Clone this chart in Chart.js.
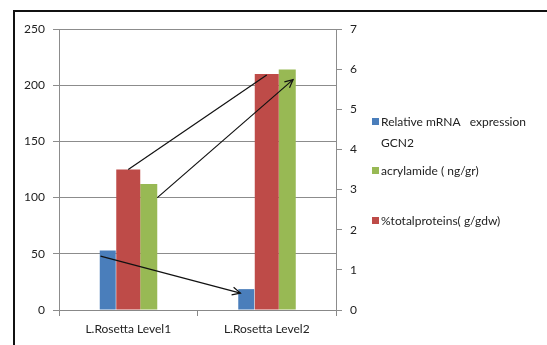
<!DOCTYPE html>
<html>
<head>
<meta charset="utf-8">
<script src="https://cdn.jsdelivr.net/npm/chart.js@4"></script>
<style>
  html, body { margin: 0; padding: 0; background: #ffffff; }
  #wrap { width: 547px; height: 345px; position: relative; }
</style>
</head>
<body>
<div id="wrap"><canvas id="c" width="547" height="345"></canvas></div>
<script>
// Categories and series
const categories = ['L.Rosetta Level1', 'L.Rosetta Level2'];
const mrnaGCN2 = [1.48, 0.52];          // right axis (relative expression)
const totalProteins = [125, 210];       // left axis
const acrylamide = [112, 214];          // left axis

const leftTicks = [0, 50, 100, 150, 200, 250];
const rightTicks = [0, 1, 2, 3, 4, 5, 6, 7];

// Trend arrows, in (category index, left-axis value) units
const trendFrom = [[0.0, 125], [0.21, 100], [-0.2, 48]];
const trendTo   = [[1.0, 209], [1.19, 205], [0.81, 15]];
const trendHead = [false, true, true];

const legendLabels = [['Relative mRNA   expression', 'GCN2'], ['acrylamide ( ng/gr)'], ['%totalproteins( g/gdw)']];

const BLUE = '#4a7ebb', RED = '#be4b48', GREEN = '#98b954';
const FONT = { family: 'Lato, "Open Sans", sans-serif', size: 12 };

const framePlugin = {
  id: 'frame',
  afterDraw(chart) {
    const ctx = chart.ctx;
    ctx.save();
    ctx.strokeStyle = '#111';
    ctx.lineWidth = 2;
    ctx.beginPath();
    ctx.moveTo(14, 345);
    ctx.lineTo(14, 11);
    ctx.lineTo(547, 11);
    ctx.stroke();
    ctx.restore();
  }
};

const arrowsPlugin = {
  id: 'trendArrows',
  afterDatasetsDraw(chart) {
    const xs = chart.scales.x, ys = chart.scales.y;
    const x0 = xs.getPixelForValue(0), x1 = xs.getPixelForValue(1);
    const px = v => x0 + v * (x1 - x0);
    const ctx = chart.ctx;
    ctx.save();
    ctx.strokeStyle = '#111';
    ctx.lineWidth = 1.2;
    trendFrom.forEach((f, i) => {
      const t = trendTo[i];
      const ax = px(f[0]), ay = ys.getPixelForValue(f[1]);
      const bx = px(t[0]), by = ys.getPixelForValue(t[1]);
      ctx.beginPath();
      ctx.moveTo(ax, ay);
      ctx.lineTo(bx, by);
      ctx.stroke();
      if (trendHead[i]) {
        const ang = Math.atan2(by - ay, bx - ax);
        const L = 9, spread = 0.45;
        ctx.beginPath();
        ctx.moveTo(bx - L * Math.cos(ang - spread), by - L * Math.sin(ang - spread));
        ctx.lineTo(bx, by);
        ctx.lineTo(bx - L * Math.cos(ang + spread), by - L * Math.sin(ang + spread));
        ctx.stroke();
      }
    });
    ctx.restore();
  }
};

const legendPlugin = {
  id: 'sideLegend',
  afterDraw(chart) {
    const ctx = chart.ctx;
    const colors = [BLUE, GREEN, RED];
    const rowsY = [[122, 143], [171], [221]];
    ctx.save();
    ctx.font = '12px ' + FONT.family;
    ctx.textBaseline = 'middle';
    ctx.fillStyle = '#222';
    legendLabels.forEach((lines, i) => {
      ctx.fillStyle = colors[i];
      ctx.fillRect(372, rowsY[i][0] - 4, 7, 7);
      ctx.fillStyle = '#222';
      lines.forEach((txt, j) => ctx.fillText(txt, 381, rowsY[i][j]));
    });
    ctx.restore();
  }
};

new Chart(document.getElementById('c'), {
  type: 'bar',
  data: {
    labels: categories,
    datasets: [
      { label: legendLabels[0].join(' '), data: mrnaGCN2, backgroundColor: BLUE, yAxisID: 'y1', barPercentage: 0.78 },
      { label: legendLabels[2][0], data: totalProteins, backgroundColor: RED, yAxisID: 'y', barPercentage: 1.17 },
      { label: legendLabels[1][0], data: acrylamide, backgroundColor: GREEN, yAxisID: 'y', barPercentage: 0.83 }
    ]
  },
  options: {
    responsive: false,
    animation: false,
    devicePixelRatio: 1,
    categoryPercentage: 0.444,
    layout: { padding: { left: 14, right: 181, top: 29, bottom: 0 } },
    plugins: { legend: { display: false }, tooltip: { enabled: false } },
    scales: {
      x: {
        grid: { display: true, drawOnChartArea: false, color: '#888', tickLength: 6, offset: true },
        border: { color: '#888' },
        ticks: { font: FONT, color: '#222', padding: 6 },
        afterFit(s) { s.height = 35; }
      },
      y: {
        position: 'left',
        min: 0, max: 250,
        afterBuildTicks(s) { s.ticks = leftTicks.map(v => ({ value: v })); },
        grid: { color: '#8c8c8c', tickLength: 6 },
        border: { color: '#8c8c8c' },
        ticks: { font: FONT, color: '#222', padding: 8 },
        afterFit(s) { s.width = 45; }
      },
      y1: {
        position: 'right',
        min: 0, max: 7,
        afterBuildTicks(s) { s.ticks = rightTicks.map(v => ({ value: v })); },
        grid: { drawOnChartArea: false, color: '#8c8c8c', tickLength: 6 },
        border: { color: '#8c8c8c' },
        ticks: { font: FONT, color: '#222', padding: 8 },
        afterFit(s) { s.width = 30; }
      }
    }
  },
  plugins: [framePlugin, arrowsPlugin, legendPlugin]
});
</script>
</body>
</html>
